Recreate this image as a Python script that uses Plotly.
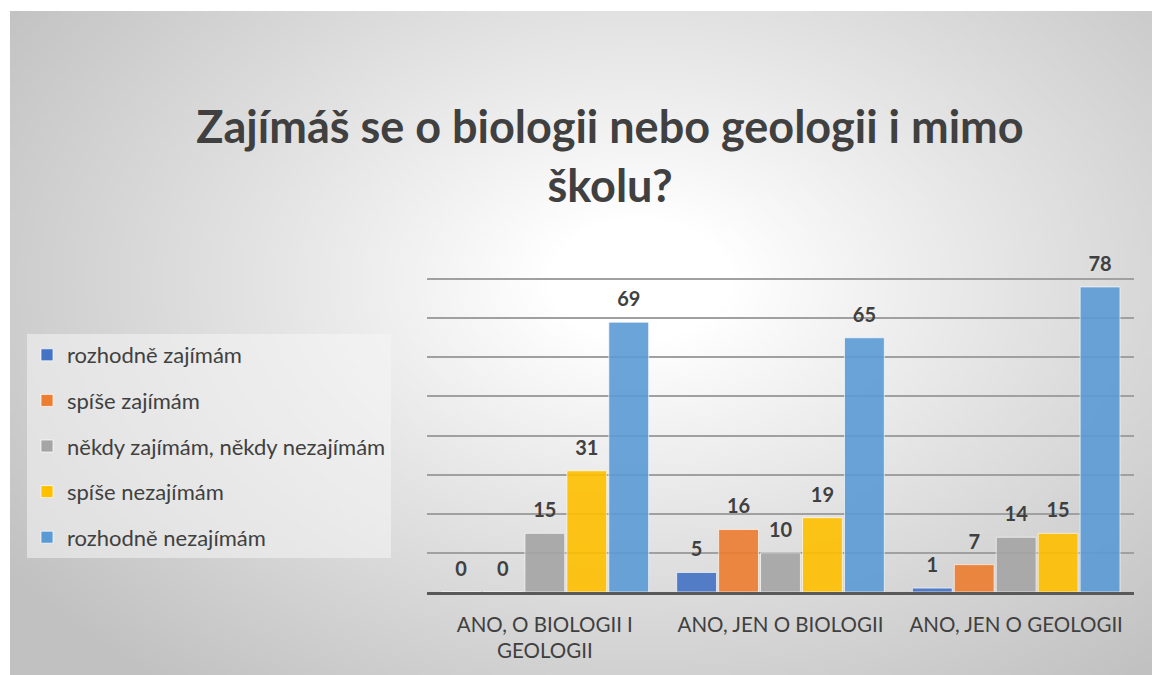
import base64, zlib, struct
import numpy as np
import plotly.graph_objects as go

# ---------------- data ----------------
categories = ["ANO, O BIOLOGII I<br>GEOLOGII", "ANO, JEN O BIOLOGII", "ANO, JEN O GEOLOGII"]
series_names = ["rozhodně zajímám", "spíše zajímám", "někdy zajímám, někdy nezajímám",
                "spíše nezajímám", "rozhodně nezajímám"]
rozhodne_zajimam = [0, 5, 1]
spise_zajimam = [0, 16, 7]
nekdy = [15, 10, 14]
spise_nezajimam = [31, 19, 15]
rozhodne_nezajimam = [69, 65, 78]
series_values = [rozhodne_zajimam, spise_zajimam, nekdy, spise_nezajimam, rozhodne_nezajimam]
colors = ["#4472C4", "#ED7D31", "#A5A5A5", "#FFC000", "#5B9BD5"]
title_text = "Zajímáš se o biologii nebo geologii i mimo<br>školu?"

W, H = 1152, 675

# ---------------- radial gradient background (PNG built in memory) ----------------
def make_png(arr):
    h, w = arr.shape
    raw = b"".join(b"\x00" + arr[r].tobytes() for r in range(h))
    def chunk(t, d):
        c = struct.pack(">I", len(d)) + t + d
        return c + struct.pack(">I", zlib.crc32(t + d) & 0xffffffff)
    png = b"\x89PNG\r\n\x1a\n" + chunk(b"IHDR", struct.pack(">IIBBBBB", w, h, 8, 0, 0, 0, 0))
    png += chunk(b"IDAT", zlib.compress(raw, 9)) + chunk(b"IEND", b"")
    return "data:image/png;base64," + base64.b64encode(png).decode()

gw, gh = 286, 166
yy, xx = np.mgrid[0:gh, 0:gw]
px = xx / (gw - 1) * 1142 + 10
py = yy / (gh - 1) * 664 + 11
r = np.sqrt(((px - 640) / 800) ** 2 + ((py - 280) / 540) ** 2)
t = np.clip((r - 0.12) / 0.85, 0, 1) ** 0.95
grad = (255 - 62 * t).clip(0, 255).astype(np.uint8)
bg_src = make_png(grad)

# ---------------- figure ----------------
fig = go.Figure()
for i, (name, vals, col) in enumerate(zip(series_names, series_values, colors)):
    fig.add_trace(go.Bar(
        x=categories, y=vals, name=name,
        marker=dict(color=col, opacity=0.9, line=dict(color="rgba(255,255,255,0.7)", width=1)),
        legendgroup=f"g{i}",
    ))
# data labels: invisible grouped scatter points carrying the value text
for i, (name, vals) in enumerate(zip(series_names, series_values)):
    fig.add_trace(go.Scatter(
        x=categories, y=vals, mode="markers+text", text=[str(v) for v in vals],
        textposition="top center", cliponaxis=False, showlegend=False,
        marker=dict(size=16, opacity=0), hoverinfo="skip",
        textfont=dict(family="Lato", size=20, color="#404040", weight="bold"),
    ))

pl, pr = 427, 1134
pt, pb = 240, 592
fig.update_layout(
    width=W, height=H,
    margin=dict(l=pl, r=W - pr, t=pt, b=H - pb, autoexpand=False),
    paper_bgcolor="white", plot_bgcolor="rgba(0,0,0,0)",
    barmode="group", bargap=0.11, bargroupgap=0.05,
    scattermode="group", scattergap=0.11,
    font=dict(family="Lato", color="#404040"),
    title=dict(text=title_text, xref="container", yref="container",
               x=610 / W, y=1 - 143 / H, xanchor="center", yanchor="middle",
               font=dict(family="Lato", size=45, color="#404040", weight="bold")),
    showlegend=True,
    legend=dict(x=(27 - pl) / (pr - pl), y=(pb - 334) / (pb - pt), xanchor="left", yanchor="top",
                bgcolor="rgba(245,245,245,0.55)", font=dict(size=22, color="#404040"),
                tracegroupgap=14, traceorder="grouped", itemclick=False),
    images=[dict(source=bg_src, xref="paper", yref="paper",
                 x=(10 - pl) / (pr - pl), y=(pb - 11) / (pb - pt),
                 sizex=(1152 - 10) / (pr - pl), sizey=(675 - 11) / (pb - pt),
                 xanchor="left", yanchor="top", sizing="stretch", layer="below")],
)
fig.update_yaxes(range=[0, 90], dtick=10, showticklabels=False, showgrid=True,
                 gridcolor="#A0A0A0", gridwidth=2, zeroline=False, showline=False, ticks="")
fig.update_xaxes(showline=True, linecolor="#595959", linewidth=3, ticks="",
                 tickfont=dict(size=20.5, color="#404040"), ticklabelstandoff=12)

fig.write_html("out.html", config={"displayModeBar": False},
               post_script="document.body.style.margin='0';")
